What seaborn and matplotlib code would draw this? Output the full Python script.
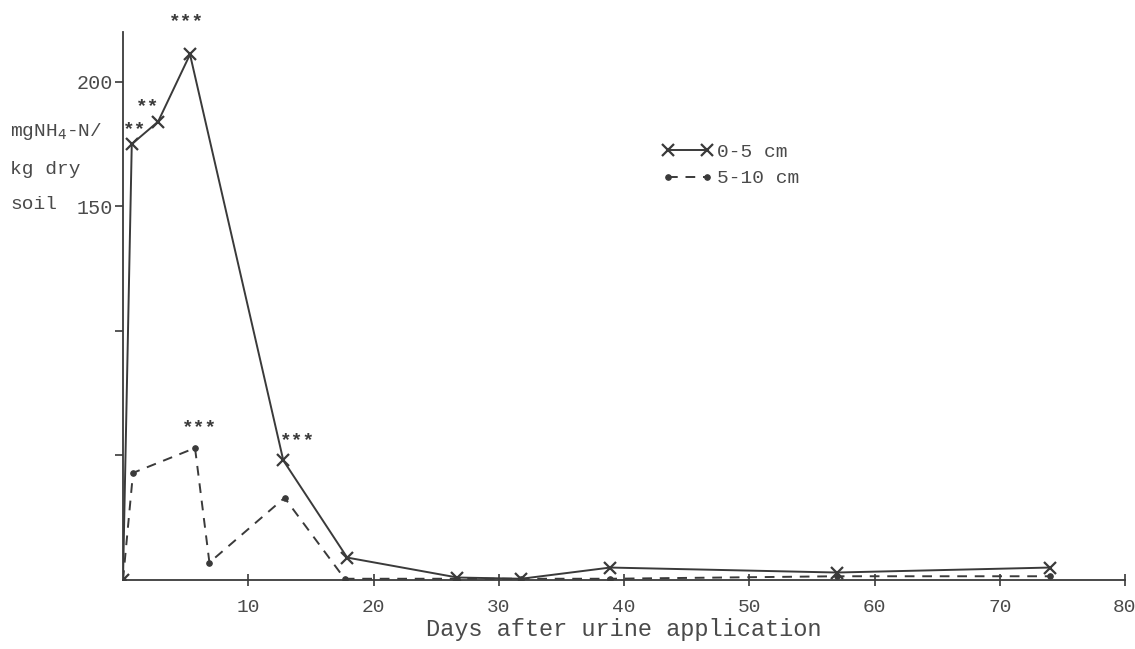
import matplotlib
matplotlib.use("Agg")
import matplotlib.pyplot as plt
import numpy as np
import pandas as pd
import seaborn as sns

# Ammonium-N in soil after urine application, two depths
days_0_5 = [0, 0.7, 2.8, 5.35, 12.8, 17.9, 26.7, 31.8, 38.9, 57.0, 74.0]
nh4_0_5 = [0, 175, 184, 211, 48, 9, 1, 0.5, 5, 3, 5]

days_5_10 = [0, 0.8, 5.75, 6.9, 12.9, 17.7, 26.7, 31.8, 38.9, 57.0, 74.0]
nh4_5_10 = [0, 43, 53, 7, 33, 0.5, 0.5, 0.5, 0.5, 1.5, 1.5]

series_labels = ["0-5 cm", "5-10 cm"]
x_ticks = [10, 20, 30, 40, 50, 60, 70, 80]
y_ticks = [50, 100, 150, 200]
y_tick_labels = ["", "", "150", "200"]

# significance marks: (day, value, text)
sig_marks = [
    (0.9, 181, "**"),
    (2.0, 190, "**"),
    (5.1, 224, "***"),
    (6.1, 61, "***"),
    (13.9, 56, "***"),
]

sns.set_theme(style="white")
plt.rcParams["font.family"] = ["Liberation Mono", "DejaVu Sans Mono"]

ink = "#3a3a3a"
text_ink = "#4a4a4a"

df = pd.concat([
    pd.DataFrame({"day": days_0_5, "nh4": nh4_0_5, "depth": series_labels[0]}),
    pd.DataFrame({"day": days_5_10, "nh4": nh4_5_10, "depth": series_labels[1]}),
])

fig = plt.figure(figsize=(11.35, 6.49), dpi=100)
ax = fig.add_axes([123 / 1135, 69 / 649, 1002 / 1135, 548 / 649])

sns.lineplot(data=df[df.depth == series_labels[0]], x="day", y="nh4", ax=ax,
             color=ink, lw=1.4, marker="x", markersize=9, markeredgewidth=1.6,
             markeredgecolor=ink, label=series_labels[0], sort=False)
sns.lineplot(data=df[df.depth == series_labels[1]], x="day", y="nh4", ax=ax,
             color=ink, lw=1.4, linestyle=(0, (5, 4)), marker="o", markersize=4,
             markeredgecolor=ink, label=series_labels[1], sort=False)

ax.set_xlim(0, 80)
ax.set_ylim(0, 220)
ax.set_xticks(x_ticks)
ax.set_xticklabels([str(t) for t in x_ticks])
ax.set_yticks(y_ticks)
ax.set_yticklabels(y_tick_labels)

for side in ["top", "right"]:
    ax.spines[side].set_visible(False)
for side in ["left", "bottom"]:
    ax.spines[side].set_color(ink)
    ax.spines[side].set_linewidth(1.3)

ax.tick_params(axis="x", direction="inout", length=8, width=1.2, colors=ink,
               labelcolor=text_ink, labelsize=14, pad=10, bottom=True)
ax.tick_params(axis="y", direction="out", length=6, width=1.2, colors=ink,
               labelcolor=text_ink, labelsize=14.5, pad=1, left=True)

ax.set_xlabel("Days after urine application", fontsize=17, color=text_ink, labelpad=1)
ax.set_ylabel("")

fig.text(10 / 1135, 1 - 132 / 649, "mgNH$_4$-N/", fontsize=14, color=text_ink,
         va="center", ha="left")
fig.text(10 / 1135, 1 - 170 / 649, "kg dry", fontsize=14, color=text_ink,
         va="center", ha="left")
fig.text(10 / 1135, 1 - 204 / 649, "soil", fontsize=14, color=text_ink,
         va="center", ha="left")

for d, v, s in sig_marks:
    ax.text(d, v, s, fontsize=14, fontweight="bold", color=ink, ha="center",
            va="center", clip_on=False)

leg = ax.legend(loc="upper left", bbox_to_anchor=(522 / 1002, 1 - 94 / 548),
                frameon=False, numpoints=2, handlelength=2.6, handletextpad=0.2,
                labelspacing=0.45, fontsize=14)
for t in leg.get_texts():
    t.set_color(text_ink)

fig.savefig("out.png", dpi=100, facecolor="white")
